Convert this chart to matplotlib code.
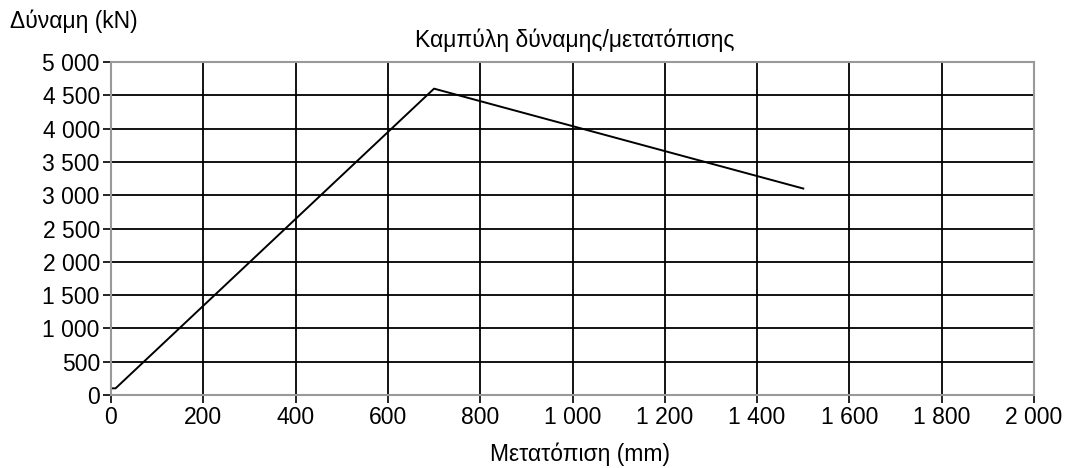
import numpy as np
import matplotlib.pyplot as plt
from matplotlib.ticker import FuncFormatter

plt.rcParams['font.family'] = ['Liberation Sans', 'DejaVu Sans']

# Δεδομένα καμπύλης
metatopisi = [0, 10, 700, 1500]
dynami = [100, 100, 4600, 3100]

x_ticks = np.arange(0, 2001, 200)
y_ticks = np.arange(0, 5001, 500)


def me_keno(v, pos):
    return f"{int(v):,}".replace(",", " ")


fig = plt.figure(figsize=(10.71, 4.68), dpi=100)
ax = fig.add_axes([0.1036, 0.156, 0.8619, 0.7115])

ax.plot(metatopisi, dynami, color="black", linewidth=1.4)

ax.set_xlim(0, 2000)
ax.set_ylim(0, 5000)
ax.set_xticks(x_ticks)
ax.set_yticks(y_ticks)
ax.xaxis.set_major_formatter(FuncFormatter(me_keno))
ax.yaxis.set_major_formatter(FuncFormatter(me_keno))
ax.tick_params(labelsize=16.5, length=6, width=1.2, color="black", direction="out", pad=2)

ax.grid(True, color="black", linewidth=1.3)
ax.set_axisbelow(True)
for lado in ["top", "right", "left", "bottom"]:
    ax.spines[lado].set_color("#999999")
    ax.spines[lado].set_linewidth(1.5)

fig.text(0.537, 0.915, "Καμπύλη δύναμης/μετατόπισης", ha="center", va="center", fontsize=16.5)
fig.text(0.009, 0.955, "Δύναμη (kN)", ha="left", va="center", fontsize=16.5)
fig.text(0.5415, 0.03, "Μετατόπιση (mm)", ha="center", va="center", fontsize=16.5)

fig.savefig("out.png", dpi=100)
